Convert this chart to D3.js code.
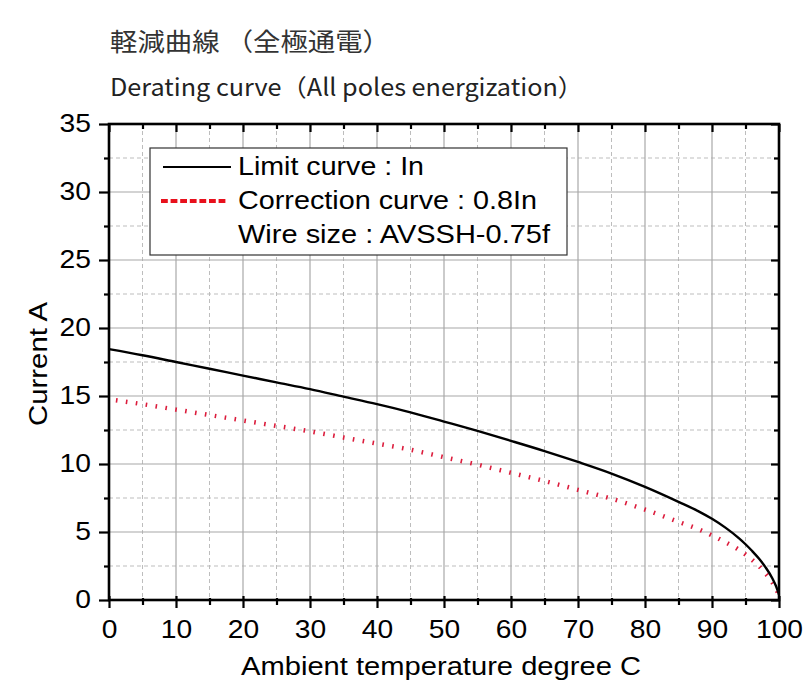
<!DOCTYPE html>
<html>
<head>
<meta charset="utf-8">
<script src="https://cdn.jsdelivr.net/npm/d3@7"></script>
<style>
  html, body { margin: 0; padding: 0; background: #fff; }
  svg { display: block; }
</style>
</head>
<body>
<svg id="chart" width="803" height="689"></svg>
<script>
// ---- data ----
const titleJa = "軽減曲線 （全極通電）";
const titleEn = "Derating curve（All poles energization）";
const xTitle = "Ambient temperature  degree C";
const yTitle = "Current  A";
const legendLabels = ["Limit curve : In", "Correction curve : 0.8In", "Wire size : AVSSH-0.75f"];

const temps = [0, 5, 10, 15, 20, 25, 30, 35, 40, 45, 50, 55, 60, 65, 70, 75, 80, 85, 88, 90, 92, 94, 95, 96, 97, 98, 99, 99.5, 100];
const limitCurrent = [18.45, 18.0, 17.5, 17.0, 16.5, 16.0, 15.5, 14.95, 14.4, 13.8, 13.12, 12.43, 11.7, 10.95, 10.15, 9.3, 8.32, 7.22, 6.52, 5.97, 5.32, 4.55, 4.1, 3.6, 3.05, 2.4, 1.6, 1.08, 0.4];
const correctionCurrent = [14.75, 14.4, 14.0, 13.6, 13.2, 12.8, 12.4, 11.95, 11.5, 11.05, 10.5, 9.95, 9.35, 8.75, 8.1, 7.45, 6.65, 5.75, 5.2, 4.75, 4.25, 3.7, 3.35, 2.95, 2.5, 1.95, 1.3, 0.88, 0.35];

const xMajor = [0, 10, 20, 30, 40, 50, 60, 70, 80, 90, 100];
const xMinor = [5, 15, 25, 35, 45, 55, 65, 75, 85, 95];
const yMajor = [0, 5, 10, 15, 20, 25, 30, 35];
const yMinor = [2.5, 7.5, 12.5, 17.5, 22.5, 27.5, 32.5];

// ---- layout ----
const W = 803, H = 689;
const m = { left: 109, right: 24, top: 124, bottom: 89 };
const pw = W - m.left - m.right, ph = H - m.top - m.bottom;

const svg = d3.select("#chart");
const x = d3.scaleLinear().domain([0, 100]).range([0, pw]);
const y = d3.scaleLinear().domain([0, 35]).range([ph, 0]);

const g = svg.append("g").attr("transform", `translate(${m.left},${m.top})`);

// grid
const grid = g.append("g");
grid.selectAll("line.vmin").data(xMinor).join("line")
  .attr("x1", d => x(d)).attr("x2", d => x(d)).attr("y1", 0).attr("y2", ph)
  .attr("stroke", "#bdbdbd").attr("stroke-width", 1).attr("stroke-dasharray", "4,3");
grid.selectAll("line.hmin").data(yMinor).join("line")
  .attr("y1", d => y(d)).attr("y2", d => y(d)).attr("x1", 0).attr("x2", pw)
  .attr("stroke", "#bdbdbd").attr("stroke-width", 1).attr("stroke-dasharray", "4,3");
g.append("g").selectAll("line").data(xMajor.slice(1, -1)).join("line")
  .attr("x1", d => x(d)).attr("x2", d => x(d)).attr("y1", 0).attr("y2", ph)
  .attr("stroke", "#a8a8a8").attr("stroke-width", 1.2);
g.append("g").selectAll("line").data(yMajor.slice(1, -1)).join("line")
  .attr("y1", d => y(d)).attr("y2", d => y(d)).attr("x1", 0).attr("x2", pw)
  .attr("stroke", "#a8a8a8").attr("stroke-width", 1.2);

// legend box (covers grid)
const lg = g.append("g").attr("transform", `translate(${150 - m.left},${148 - m.top})`);
lg.append("rect").attr("x", 0).attr("y", 0).attr("width", 417).attr("height", 107)
  .attr("fill", "#fff").attr("stroke", "#333").attr("stroke-width", 1.2);
lg.append("line").attr("x1", 13).attr("x2", 81).attr("y1", 19).attr("y2", 19)
  .attr("stroke", "#000").attr("stroke-width", 1.8);
lg.append("line").attr("x1", 11).attr("x2", 78).attr("y1", 53).attr("y2", 53)
  .attr("stroke", "#e8101c").attr("stroke-width", 4).attr("stroke-dasharray", "6.8,2.8");
const legLens = [186, 299, 312];
legendLabels.forEach((t, i) => {
  lg.append("text").attr("x", 88).attr("y", 27 + i * 34)
    .attr("font-family", "Liberation Sans, Arial, sans-serif").attr("font-size", 26.5)
    .attr("fill", "#000").attr("textLength", legLens[i]).attr("lengthAdjust", "spacingAndGlyphs")
    .text(t);
});

// curves
const line = d3.line().x((d, i) => x(temps[i])).y(d => y(d)).curve(d3.curveMonotoneX);
g.append("path").datum(correctionCurrent).attr("d", line)
  .attr("fill", "none").attr("stroke", "#dc1c3c").attr("stroke-width", 4.5)
  .attr("stroke-dasharray", "1.6,8.4").attr("stroke-dashoffset", -7);
g.append("path").datum(limitCurrent).attr("d", line)
  .attr("fill", "none").attr("stroke", "#000").attr("stroke-width", 2.4);

// axes
const tickFont = "Liberation Sans, Arial, sans-serif";
function styleAxis(sel) {
  sel.select(".domain").remove();
  sel.selectAll(".tick line").attr("stroke", "#000").attr("stroke-width", 2.2);
}
// bottom
const xAxis = g.append("g").attr("transform", `translate(0,${ph})`)
  .call(d3.axisBottom(x).tickValues(xMajor).tickSize(8).tickPadding(12).tickFormat(d3.format("d")));
styleAxis(xAxis);
xAxis.selectAll(".tick line").attr("y1", -4);
xAxis.selectAll(".tick text").attr("font-family", tickFont).attr("font-size", 25)
  .attr("fill", "#000").attr("transform", "scale(1.13,1)");
const xAxisMin = g.append("g").attr("transform", `translate(0,${ph})`)
  .call(d3.axisBottom(x).tickValues(xMinor).tickSize(5).tickFormat(""));
styleAxis(xAxisMin);
xAxisMin.selectAll(".tick line").attr("y1", -2);
// left
const yAxis = g.append("g")
  .call(d3.axisLeft(y).tickValues(yMajor).tickSize(10).tickPadding(6).tickFormat(d3.format("d")));
styleAxis(yAxis);
yAxis.selectAll(".tick text").attr("font-family", tickFont).attr("font-size", 25)
  .attr("fill", "#000").attr("transform", "scale(1.13,1)").attr("dy", "0.30em");
const yAxisMin = g.append("g").call(d3.axisLeft(y).tickValues(yMinor).tickSize(5).tickFormat(""));
styleAxis(yAxisMin);
// top
const tAxis = g.append("g").call(d3.axisTop(x).tickValues(xMajor).tickSize(-8).tickFormat(""));
styleAxis(tAxis);
const tAxisMin = g.append("g").call(d3.axisTop(x).tickValues(xMinor).tickSize(-5).tickFormat(""));
styleAxis(tAxisMin);
// right
const rAxis = g.append("g").attr("transform", `translate(${pw},0)`)
  .call(d3.axisRight(y).tickValues(yMajor).tickSize(-8).tickFormat(""));
styleAxis(rAxis);
const rAxisMin = g.append("g").attr("transform", `translate(${pw},0)`)
  .call(d3.axisRight(y).tickValues(yMinor).tickSize(-5).tickFormat(""));
styleAxis(rAxisMin);

// frame
g.append("rect").attr("x", 0).attr("y", 0).attr("width", pw).attr("height", ph)
  .attr("fill", "none").attr("stroke", "#000").attr("stroke-width", 2.6);

// axis titles
svg.append("text").attr("x", 441).attr("y", 675).attr("text-anchor", "middle")
  .attr("font-family", tickFont).attr("font-size", 26).attr("fill", "#000")
  .attr("textLength", 400).attr("lengthAdjust", "spacingAndGlyphs").text(xTitle);
svg.append("text").attr("transform", "translate(47,364) rotate(-90)").attr("text-anchor", "middle")
  .attr("font-family", tickFont).attr("font-size", 26).attr("fill", "#000")
  .attr("textLength", 124).attr("lengthAdjust", "spacingAndGlyphs").text(yTitle);

// titles
svg.append("text").attr("x", 110).attr("y", 51)
  .attr("font-family", "Noto Sans CJK JP, sans-serif").attr("font-size", 25).attr("fill", "#333")
  .attr("textLength", 280).attr("lengthAdjust", "spacingAndGlyphs").text(titleJa);
svg.append("text").attr("x", 110).attr("y", 96)
  .attr("font-family", "Noto Sans CJK JP, sans-serif").attr("font-size", 24).attr("fill", "#222")
  .attr("textLength", 473).attr("lengthAdjust", "spacingAndGlyphs").text(titleEn);
</script>
</body>
</html>
